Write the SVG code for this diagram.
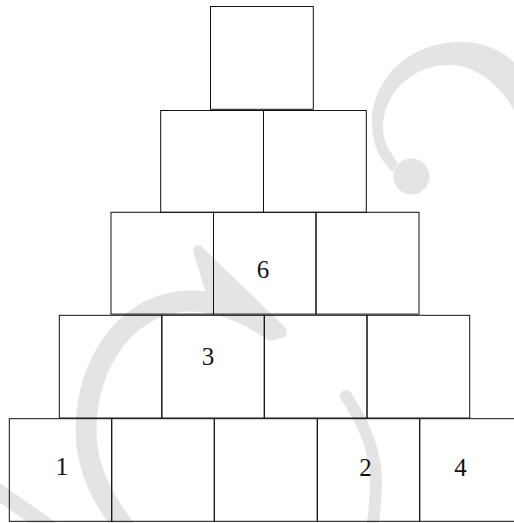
<svg xmlns="http://www.w3.org/2000/svg" width="514" height="523" viewBox="0 0 514 523">
<style>
.wm{fill:#e4e4e4;stroke:none}
.wms{fill:none;stroke:#e4e4e4}
.box{fill:none;stroke:#111;stroke-width:1}
.lbl{font-family:"Liberation Serif",serif;font-size:25px;fill:#111;text-anchor:middle}
</style>
<rect width="514" height="523" fill="#fff"/>
<g id="watermark">
<path class="wm" d="M514,62 C500,50 485,42 460,42 C410,42 372,78 372,123 C372,145 380,160 393,172 L398,163 C390,152 383,142 383,128 C383,95 410,65 450,65 C475,65 500,85 514,110 Z"/>
<circle class="wm" cx="411.5" cy="176.5" r="18"/>
<path class="wm" d="M193,251 Q194,243 201,246 L286,328 Q289,339 278,338 L208,300 Z"/>
<path class="wms" stroke-width="21" stroke-linecap="round" d="M272,330 C247,313 220,301 190,301 C130,301 86,360 86,430 C86,470 103,500 130,535"/>
<path class="wms" stroke-width="16" d="M-10,486 L60,535"/>
<path class="wms" stroke-width="12" stroke-linecap="round" d="M346,396 C362,420 376,450 376,482 C376,500 374,515 372,530"/>
</g>
<g id="connectors"></g>
<g id="row1">
<g id="b11"><rect class="box" x="210.5" y="6.5" width="102.8" height="102.8"/></g>
</g>
<g id="row2">
<g id="b21"><rect class="box" x="160.7" y="110.5" width="102.8" height="101.8"/></g>
<g id="b22"><rect class="box" x="263.5" y="110.5" width="102.8" height="101.8"/></g>
</g>
<g id="row3">
<g id="b31"><rect class="box" x="111" y="212.3" width="102.5" height="101.8"/></g>
<g id="b32"><rect class="box" x="213.5" y="212.3" width="102.5" height="101.8"/><text class="lbl" x="263" y="277.5">6</text></g>
<g id="b33"><rect class="box" x="316" y="212.3" width="103" height="101.8"/></g>
</g>
<g id="row4">
<g id="b41"><rect class="box" x="59.3" y="315.3" width="102.5" height="102.7"/></g>
<g id="b42"><rect class="box" x="161.8" y="315.3" width="102.5" height="102.7"/><text class="lbl" x="208" y="365">3</text></g>
<g id="b43"><rect class="box" x="264.3" y="315.3" width="102.7" height="102.7"/></g>
<g id="b44"><rect class="box" x="367" y="315.3" width="102.7" height="102.7"/></g>
</g>
<g id="row5">
<g id="b51"><rect class="box" x="9.3" y="418.7" width="102.4" height="102.6"/><text class="lbl" x="62" y="475">1</text></g>
<g id="b52"><rect class="box" x="111.7" y="418.7" width="102.6" height="102.6"/></g>
<g id="b53"><rect class="box" x="214.3" y="418.7" width="103" height="102.6"/></g>
<g id="b54"><rect class="box" x="317.3" y="418.7" width="102.4" height="102.6"/><text class="lbl" x="365.5" y="476">2</text></g>
<g id="b55"><rect class="box" x="419.7" y="418.7" width="102.6" height="102.6"/><text class="lbl" x="460.5" y="476">4</text></g>
</g>
</svg>
